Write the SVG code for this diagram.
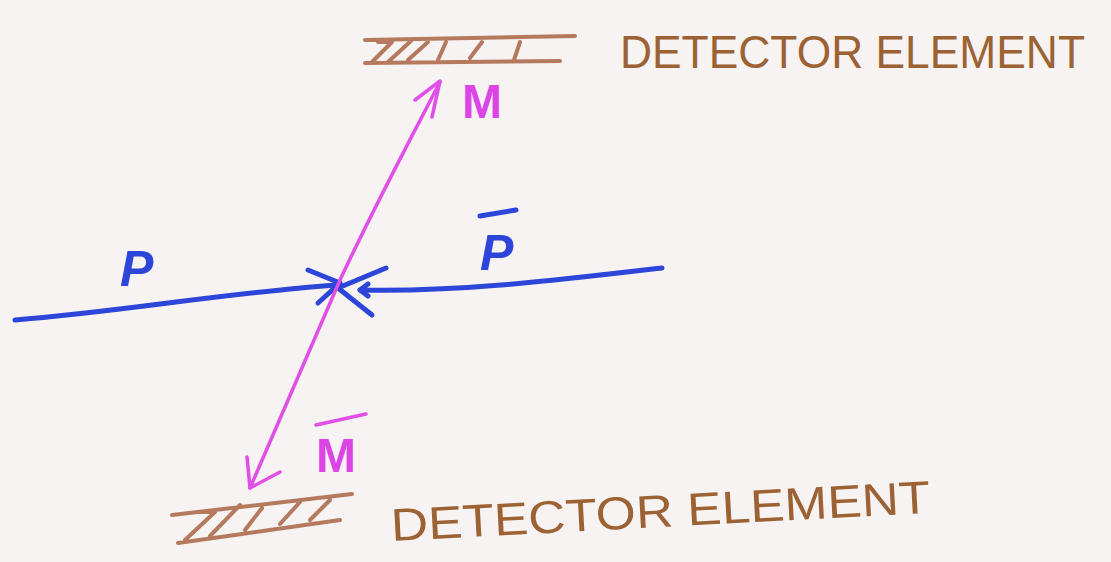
<svg xmlns="http://www.w3.org/2000/svg" width="1111" height="562" viewBox="0 0 1111 562">
<defs>
<style>
.bg{fill:#f6f3f2}
.brown{fill:none;stroke:#b57a5e;stroke-width:4;stroke-linecap:round;stroke-linejoin:round}
.lbl{fill:#9c6233;font-family:"Liberation Sans",sans-serif;font-size:46px}
.blue{fill:none;stroke:#2d45d8;stroke-width:5;stroke-linecap:round;stroke-linejoin:round}
.mag{fill:none;stroke:#e050e8;stroke-width:3.5;stroke-linecap:round;stroke-linejoin:round}
.magt{fill:#dd44e6;font-family:"Liberation Sans",sans-serif;font-size:48px;font-weight:bold}
.bluet{fill:#2d45d8;font-family:"Liberation Sans",sans-serif;font-size:50px;font-weight:bold;font-style:italic}
</style>
</defs>
<rect class="bg" width="1111" height="562"/>
<g id="detector-top">
<path class="brown" d="M365 40 L575 36 M365 63 L560 61 M372 62 L392 42 L378 42 M388 62 L412 40 M408 60 L428 42 M438 60 L446 42 M470 58 L482 42 M514 60 L520 42"/>
<text class="lbl" x="620" y="68" textLength="465" lengthAdjust="spacingAndGlyphs">DETECTOR ELEMENT</text>
</g>
<g id="detector-bottom">
<path class="brown" d="M172 515 L352 494 M178 543 L340 520 M185 540 L215 512 L198 512 M210 536 L240 505 M245 530 L262 508 M280 524 L300 502 M310 520 L330 500"/>
<text class="lbl" x="390" y="527" textLength="540" lengthAdjust="spacingAndGlyphs" transform="rotate(-3 660 500)">DETECTOR ELEMENT</text>
</g>
<g id="connectors">
<path class="blue" d="M15 320 C 120 312, 230 292, 338 285"/>
<path class="blue" d="M360 290 C 460 292, 560 280, 662 268"/>
<path class="blue" d="M308 270 L340 283 L318 303 M386 268 L338 288 L372 315 M368 284 L360 290 L368 296"/>
<path class="mag" d="M440 82 C 410 140, 375 205, 340 280 C 310 350, 280 420, 250 488"/>
<path class="mag" d="M415 100 L440 81 L432 117 M247 457 L250 488 L280 472"/>
</g>
<g id="labels">
<text class="magt" x="462" y="118">M</text>
<text class="magt" x="316" y="472">M</text>
<path class="mag" d="M316 425 L366 414" stroke-width="5"/>
<text class="bluet" x="120" y="286">P</text>
<text class="bluet" x="480" y="270">P</text>
<path class="blue" d="M480 216 L516 210"/>
</g>
</svg>
